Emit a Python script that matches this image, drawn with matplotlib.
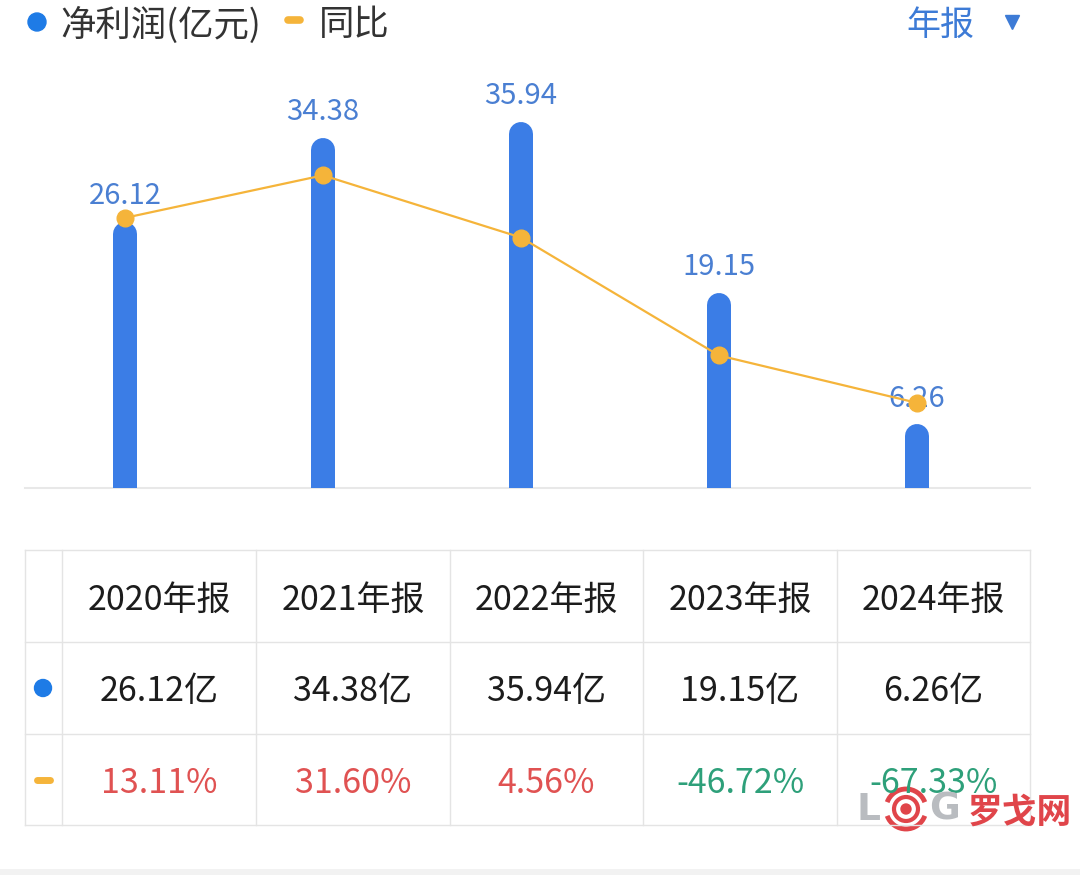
import matplotlib
matplotlib.use('Agg')
import matplotlib.pyplot as plt
from matplotlib.patches import Circle, Arc, Rectangle

plt.rcParams['font.family'] = ['Noto Sans CJK SC', 'DejaVu Sans']

# --- data ---
years = ['2020年报', '2021年报', '2022年报', '2023年报', '2024年报']
profit = [26.12, 34.38, 35.94, 19.15, 6.26]          # 净利润(亿元)
yoy = [13.11, 31.60, 4.56, -46.72, -67.33]            # 同比 %

BAR = '#3b7de6'
LBL = '#4a7fd2'
ORANGE = '#f5b43a'
RED = '#e05252'
GREEN = '#2ea07a'
GRID = '#e4e4e4'
DARK = '#1c1c1c'

W, H = 1080, 875
fig = plt.figure(figsize=(W / 100, H / 100), dpi=100)
fig.patch.set_facecolor('white')

# chart area in pixels: x 25..1030, y 60..488
ax = fig.add_axes([25 / W, 1 - 488 / H, 1005 / W, 428 / H])
ax.set_xlim(-100 / 198, 4 + 113 / 198)
ax.set_ylim(0, 428 / 10.18)
ax.axis('off')

ax2 = ax.twinx()
ax2.set_ylim((248 - 488) / 2.3, (248 - 60) / 2.3)
ax2.axis('off')

xs = list(range(len(years)))

# bars with round top
bar_px = 24
p0, p1 = ax.transData.transform([(0, 0), (0, 1)])
r = (bar_px / 2) / (p1[1] - p0[1])
ax.axhline(0, color='#e8e8e8', lw=1.5, zorder=1, clip_on=False)
for xi, v in zip(xs, profit):
    ax.plot([xi, xi], [0, v - r], color=BAR, lw=bar_px * 0.72,
            solid_capstyle='round', zorder=2)
    ax.annotate(f'{v:.2f}', (xi, v), xytext=(0, 18.5), textcoords='offset points',
                ha='center', va='center', fontsize=21, fontweight='medium',
                color=LBL, zorder=5)

# yoy line
ax2.plot(xs, yoy, color=ORANGE, lw=1.6, marker='o', markersize=12,
         markerfacecolor=ORANGE, markeredgecolor=ORANGE, zorder=3)

# overlay in pixel coordinates for legend + table
ov = fig.add_axes([0, 0, 1, 1], zorder=-1)
ov.set_xlim(0, W)
ov.set_ylim(H, 0)
ov.axis('off')

# legend
ov.add_patch(Circle((37, 22), 9, color='#1e7be6'))
ov.text(60, 25, '净利润(亿元)', fontsize=25.5, color='#333333', va='center', ha='left')
ov.plot([288, 300], [20, 20], color=ORANGE, lw=5.5, solid_capstyle='round')
ov.text(319, 25, '同比', fontsize=25.5, color='#333333', va='center', ha='left')
ov.text(906, 25, '年报', fontsize=24.5, color='#3d7bd6', va='center', ha='left')
ov.plot([1012], [22], marker='v', markersize=10, color='#3d7bd6')

# table
col_x = [25, 62, 256, 450, 643, 837, 1030]
row_y = [550, 642, 734, 825]
for y in row_y:
    ov.plot([col_x[0], col_x[-1]], [y, y], color=GRID, lw=1)
for x in col_x:
    ov.plot([x, x], [row_y[0], row_y[-1]], color=GRID, lw=1)

centers = [(col_x[i] + col_x[i + 1]) / 2 for i in range(1, len(col_x) - 1)]
yc = [(row_y[i] + row_y[i + 1]) / 2 for i in range(3)]
for cx, yr, v, g in zip(centers, years, profit, yoy):
    ov.text(cx, yc[0] + 4, yr, fontsize=24.5, fontweight='medium', color=DARK,
            ha='center', va='center')
    ov.text(cx, yc[1] + 4, f'{v:.2f}亿', fontsize=24.5, fontweight='medium', color=DARK,
            ha='center', va='center')
    ov.text(cx, yc[2] + 4, f'{g:.2f}%', fontsize=24.5, fontweight='medium',
            color=RED if g >= 0 else GREEN, ha='center', va='center')
ov.add_patch(Circle((43, yc[1]), 8.5, color='#1e7be6'))
ov.plot([37, 50], [yc[2], yc[2]], color=ORANGE, lw=5, solid_capstyle='round')

# watermark
ov.text(856, 810, 'L', fontsize=27, fontweight='bold', color='#b9bcc0',
        ha='left', va='center', family='DejaVu Sans')
ov.add_patch(Circle((906, 809), 5, color='#e0454a'))
ov.add_patch(Circle((906, 809), 12, fill=False, ec='#e0454a', lw=3))
ov.add_patch(Arc((906, 809), 40, 40, theta1=20, theta2=160, ec='#e0454a', lw=3.5))
ov.add_patch(Arc((906, 809), 40, 40, theta1=200, theta2=340, ec='#e0454a', lw=3.5))
ov.text(929, 810, 'G', fontsize=27, fontweight='bold', color='#b9bcc0',
        ha='left', va='center', family='DejaVu Sans')
ov.text(968, 812, '罗戈网', fontsize=25, fontweight='bold', color='#e0454a',
        ha='left', va='center')

# bottom strip
ov.add_patch(Rectangle((0, 869), W, 6, color='#f2f2f2', lw=0))

fig.savefig('out.png', dpi=100, facecolor='white')
